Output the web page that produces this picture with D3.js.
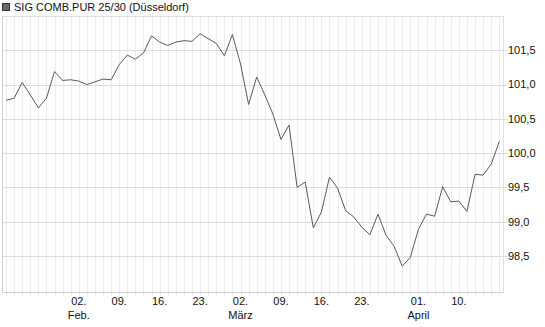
<!DOCTYPE html>
<html><head><meta charset="utf-8">
<script src="https://cdn.jsdelivr.net/npm/d3@7"></script>
<style>body{margin:0;background:#fff;}svg{display:block;font-family:"Liberation Sans",Arial,sans-serif;}</style>
</head><body>
<script>
const title = "SIG COMB.PUR 25/30 (Düsseldorf)";
const dates = [
 "2026-01-20","2026-01-21","2026-01-22","2026-01-23","2026-01-26","2026-01-27","2026-01-28","2026-01-29","2026-01-30",
 "2026-02-02","2026-02-03","2026-02-04","2026-02-05","2026-02-06",
 "2026-02-09","2026-02-10","2026-02-11","2026-02-12","2026-02-13",
 "2026-02-16","2026-02-17","2026-02-18","2026-02-19","2026-02-20",
 "2026-02-23","2026-02-24","2026-02-25","2026-02-26","2026-02-27",
 "2026-03-02","2026-03-03","2026-03-04","2026-03-05","2026-03-06",
 "2026-03-09","2026-03-10","2026-03-11","2026-03-12","2026-03-13",
 "2026-03-16","2026-03-17","2026-03-18","2026-03-19","2026-03-20",
 "2026-03-23","2026-03-24","2026-03-25","2026-03-26","2026-03-27",
 "2026-03-30","2026-03-31","2026-04-01","2026-04-02",
 "2026-04-07","2026-04-08","2026-04-09","2026-04-10",
 "2026-04-13","2026-04-14","2026-04-15","2026-04-16","2026-04-17"
];
const prices = [
 100.77,100.80,101.03,100.85,100.66,100.80,101.19,101.06,101.07,
 101.05,101.00,101.04,101.08,101.07,
 101.29,101.43,101.37,101.46,101.71,
 101.62,101.57,101.62,101.64,101.63,
 101.74,101.67,101.60,101.42,101.73,
 101.30,100.71,101.11,100.85,100.57,
 100.20,100.41,99.50,99.58,98.91,
 99.14,99.65,99.49,99.16,99.07,
 98.92,98.81,99.11,98.80,98.64,
 98.35,98.48,98.89,99.11,
 99.08,99.51,99.29,99.30,
 99.15,99.69,99.68,99.84,100.17
];
const tickDates = ["2026-02-02","2026-02-09","2026-02-16","2026-02-23","2026-03-02","2026-03-09","2026-03-16","2026-03-23","2026-04-01","2026-04-10"];
const tickLabels = ["02.","09.","16.","23.","02.","09.","16.","23.","01.","10."];
const monthLabels = ["Feb.","","","","März","","","","April",""];
const yTicks = [98.5,99.0,99.5,100.0,100.5,101.0,101.5];
const yDomain = [97.96,102.0];

const W=545,H=327;
const L=2.5,R=503.5,T=16.5,B=292.5;
const svg=d3.select("body").append("svg").attr("width",W).attr("height",H);

const x=d3.scalePoint().domain(dates).range([6,499.3]);
const y=d3.scaleLinear().domain(yDomain).range([293,16]);

// vertical day gridlines
svg.append("g").selectAll("line").data(dates).join("line")
 .attr("x1",d=>Math.round(x(d))+0.5).attr("x2",d=>Math.round(x(d))+0.5)
 .attr("y1",T).attr("y2",B+3).attr("stroke","#ececec").attr("stroke-width",1);

// horizontal gridlines
svg.append("g").selectAll("line").data(yTicks).join("line")
 .attr("x1",L).attr("x2",R+4)
 .attr("y1",d=>Math.round(y(d))+0.5).attr("y2",d=>Math.round(y(d))+0.5)
 .attr("stroke","#dddddd");

// frame
svg.append("rect").attr("x",L).attr("y",T).attr("width",R-L).attr("height",B-T)
 .attr("fill","none").attr("stroke","#e0e0e0");
svg.append("line").attr("x1",L).attr("x2",L).attr("y1",T).attr("y2",B).attr("stroke","#cfcfcf");
svg.append("line").attr("x1",L).attr("x2",R).attr("y1",B).attr("y2",B).attr("stroke","#cfcfcf");

// y labels
svg.append("g").selectAll("text").data(yTicks).join("text")
 .attr("x",508).attr("y",d=>y(d)).attr("dy","0.35em")
 .attr("font-size",11).attr("fill","#111")
 .text(d=>d3.format(".1f")(d).replace(".",","));

// x labels
const xt=svg.append("g");
xt.selectAll("text.d").data(tickDates).join("text").attr("class","d")
 .attr("x",d=>x(d)).attr("y",305).attr("text-anchor","middle")
 .attr("font-size",11).attr("fill","#111").text((d,i)=>tickLabels[i]);
xt.selectAll("text.m").data(tickDates).join("text").attr("class","m")
 .attr("x",d=>x(d)).attr("y",319).attr("text-anchor","middle")
 .attr("font-size",11).attr("fill","#111").text((d,i)=>monthLabels[i]);

// price line
const line=d3.line().x((d,i)=>x(dates[i])).y(d=>y(d));
svg.append("path").datum(prices).attr("d",line)
 .attr("fill","none").attr("stroke","#5a5a5a").attr("stroke-width",1);

// legend/title
svg.append("rect").attr("x",2.5).attr("y",3.5).attr("width",7).attr("height",7)
 .attr("fill","#6a6a6a").attr("stroke","#333");
svg.append("text").attr("x",14).attr("y",11).attr("font-size",11).attr("fill","#111").text(title);
</script>
</body></html>
